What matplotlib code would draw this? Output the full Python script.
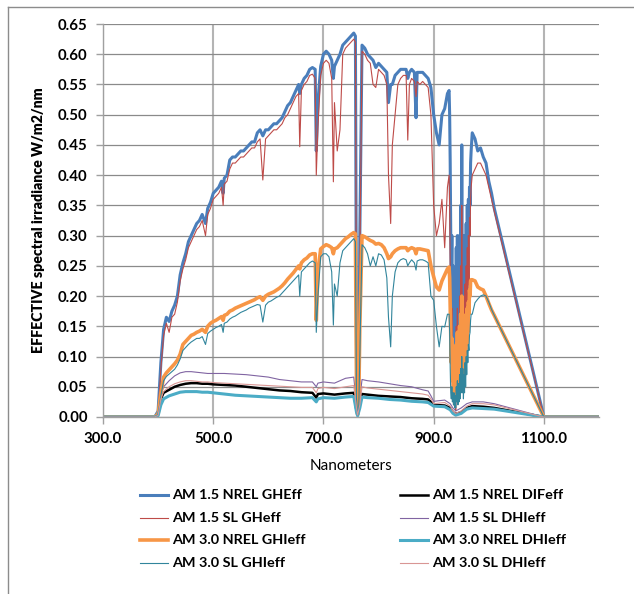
import matplotlib
matplotlib.use("Agg")
import matplotlib.pyplot as plt
from matplotlib.lines import Line2D

plt.rcParams['font.family'] = ['Lato', 'DejaVu Sans']

# ---------------- data: global (GH) curves ----------------
wl_gh = [300, 394, 400, 405, 410, 415, 420, 425, 430, 435,
         440, 445, 450, 455, 460, 465, 470, 475, 480, 486,
         490, 495, 500, 505, 510, 515, 518, 520, 525, 530,
         535, 540, 545, 550, 555, 560, 565, 570, 575, 580,
         585, 590, 595, 600, 605, 610, 615, 620, 625, 630,
         635, 640, 645, 650, 655, 657, 660, 665, 670, 675,
         680, 685, 687, 690, 695, 700, 705, 710, 715, 718,
         720, 725, 730, 735, 740, 745, 750, 755, 758, 760,
         762, 764, 766, 770, 775, 780, 785, 790, 795, 800,
         805, 810, 815, 818, 822, 825, 830, 835, 840, 845,
         850, 853, 856, 860, 865, 868, 870, 875, 880, 885,
         890, 895, 900, 905, 910, 915, 920, 925,
         928, 929, 930, 931, 932, 933, 934, 935, 936, 937,
         938, 939, 940, 941, 942, 943, 944, 945, 946, 947,
         948, 949, 950, 951, 952, 953, 954, 955, 956, 957,
         958, 959, 960, 961, 962, 963, 964, 965, 966, 967,
         968, 970, 975, 980, 985, 990, 995, 1000, 1005, 1010,
         1100, 1200]

am15_nrel_gh = [0, 0, 0.01, 0.09, 0.145, 0.165, 0.158, 0.175, 0.185, 0.20,
                0.235, 0.255, 0.27, 0.29, 0.30, 0.31, 0.32, 0.325, 0.335, 0.32,
                0.345, 0.355, 0.37, 0.375, 0.38, 0.39, 0.37, 0.395, 0.40, 0.425,
                0.43, 0.43, 0.435, 0.44, 0.44, 0.445, 0.45, 0.455, 0.455, 0.47,
                0.475, 0.465, 0.475, 0.475, 0.48, 0.485, 0.485, 0.49, 0.495, 0.505,
                0.515, 0.52, 0.53, 0.54, 0.55, 0.535, 0.55, 0.56, 0.565, 0.575,
                0.578, 0.575, 0.44, 0.52, 0.58, 0.60, 0.605, 0.60, 0.59, 0.56,
                0.58, 0.59, 0.60, 0.615, 0.62, 0.625, 0.63, 0.635, 0.63, 0.12,
                0.005, 0.04, 0.30, 0.615, 0.61, 0.60, 0.595, 0.59, 0.578, 0.585,
                0.58, 0.575, 0.57, 0.52, 0.55, 0.55, 0.565, 0.57, 0.575, 0.575,
                0.575, 0.56, 0.57, 0.575, 0.57, 0.495, 0.57, 0.57, 0.57, 0.565,
                0.56, 0.545, 0.50, 0.47, 0.45, 0.50, 0.51, 0.535,
                0.54, 0.50, 0.42, 0.30, 0.22, 0.30, 0.15, 0.25, 0.08, 0.20,
                0.06, 0.18, 0.05, 0.28, 0.12, 0.30, 0.10, 0.25, 0.08, 0.30,
                0.15, 0.35, 0.20, 0.45, 0.18, 0.30, 0.10, 0.28, 0.12, 0.30,
                0.15, 0.32, 0.20, 0.35, 0.22, 0.36, 0.30, 0.38, 0.35, 0.42,
                0.44, 0.47, 0.46, 0.44, 0.445, 0.43, 0.42, 0.39, 0.37, 0.345,
                0.0, 0.0]

am15_sl_gh = [0, 0, 0.008, 0.08, 0.135, 0.155, 0.14, 0.165, 0.17, 0.19,
              0.225, 0.245, 0.26, 0.28, 0.29, 0.30, 0.31, 0.315, 0.325, 0.30,
              0.335, 0.345, 0.36, 0.365, 0.37, 0.38, 0.35, 0.385, 0.39, 0.41,
              0.42, 0.42, 0.425, 0.43, 0.43, 0.435, 0.44, 0.445, 0.445, 0.455,
              0.46, 0.392, 0.46, 0.465, 0.47, 0.475, 0.475, 0.48, 0.485, 0.495,
              0.50, 0.51, 0.52, 0.53, 0.535, 0.447, 0.54, 0.55, 0.555, 0.565,
              0.567, 0.56, 0.40, 0.48, 0.565, 0.585, 0.59, 0.585, 0.56, 0.389,
              0.52, 0.44, 0.475, 0.60, 0.61, 0.615, 0.62, 0.625, 0.62, 0.10,
              0.003, 0.03, 0.25, 0.605, 0.60, 0.59, 0.585, 0.55, 0.545, 0.575,
              0.57, 0.565, 0.55, 0.40, 0.32, 0.45, 0.50, 0.55, 0.56, 0.565,
              0.565, 0.458, 0.55, 0.56, 0.555, 0.53, 0.555, 0.55, 0.555, 0.55,
              0.545, 0.50, 0.35, 0.30, 0.32, 0.36, 0.28, 0.38,
              0.40, 0.35, 0.25, 0.15, 0.10, 0.18, 0.05, 0.12, 0.02, 0.10,
              0.03, 0.08, 0.01, 0.15, 0.05, 0.18, 0.04, 0.15, 0.03, 0.20,
              0.06, 0.25, 0.10, 0.35, 0.08, 0.20, 0.05, 0.18, 0.06, 0.22,
              0.08, 0.25, 0.12, 0.28, 0.15, 0.30, 0.22, 0.33, 0.30, 0.36,
              0.38, 0.40, 0.41, 0.42, 0.42, 0.41, 0.40, 0.38, 0.36, 0.34,
              0.0, 0.0]

am30_nrel_gh = [0, 0, 0.005, 0.04, 0.066, 0.073, 0.078, 0.083, 0.088, 0.094,
                0.104, 0.12, 0.125, 0.13, 0.135, 0.137, 0.14, 0.142, 0.145, 0.14,
                0.15, 0.155, 0.158, 0.16, 0.163, 0.166, 0.16, 0.168, 0.17, 0.175,
                0.177, 0.18, 0.182, 0.184, 0.186, 0.188, 0.19, 0.192, 0.194, 0.197,
                0.199, 0.193, 0.20, 0.203, 0.205, 0.207, 0.21, 0.213, 0.217, 0.222,
                0.228, 0.233, 0.238, 0.244, 0.25, 0.245, 0.255, 0.26, 0.263, 0.268,
                0.27, 0.27, 0.16, 0.24, 0.278, 0.282, 0.285, 0.283, 0.28, 0.27,
                0.278, 0.28, 0.285, 0.29, 0.295, 0.298, 0.302, 0.305, 0.303, 0.05,
                0.004, 0.02, 0.15, 0.30, 0.298, 0.295, 0.292, 0.29, 0.286, 0.287,
                0.285, 0.28, 0.27, 0.262, 0.265, 0.27, 0.275, 0.278, 0.28, 0.28,
                0.28, 0.275, 0.278, 0.28, 0.278, 0.27, 0.278, 0.278, 0.277, 0.276,
                0.275, 0.25, 0.232, 0.215, 0.21, 0.225, 0.235, 0.245,
                0.248, 0.23, 0.18, 0.12, 0.09, 0.13, 0.06, 0.10, 0.04, 0.09,
                0.035, 0.08, 0.03, 0.12, 0.06, 0.14, 0.05, 0.13, 0.05, 0.15,
                0.07, 0.17, 0.10, 0.20, 0.08, 0.15, 0.06, 0.14, 0.07, 0.16,
                0.09, 0.17, 0.12, 0.18, 0.14, 0.19, 0.17, 0.21, 0.20, 0.225,
                0.227, 0.227, 0.225, 0.215, 0.212, 0.21, 0.20, 0.188, 0.177, 0.168,
                0.0, 0.0]

am30_sl_gh = [0, 0, 0.004, 0.035, 0.06, 0.067, 0.071, 0.075, 0.079, 0.086,
              0.096, 0.11, 0.115, 0.12, 0.124, 0.127, 0.13, 0.13, 0.133, 0.12,
              0.138, 0.142, 0.145, 0.148, 0.15, 0.153, 0.14, 0.155, 0.157, 0.162,
              0.165, 0.167, 0.17, 0.173, 0.175, 0.177, 0.18, 0.182, 0.184, 0.186,
              0.185, 0.157, 0.185, 0.19, 0.192, 0.195, 0.198, 0.20, 0.205, 0.21,
              0.215, 0.22, 0.225, 0.23, 0.235, 0.20, 0.24, 0.245, 0.25, 0.255,
              0.258, 0.255, 0.14, 0.20, 0.265, 0.27, 0.27, 0.265, 0.24, 0.152,
              0.22, 0.20, 0.255, 0.275, 0.28, 0.285, 0.29, 0.295, 0.29, 0.03,
              0.003, 0.01, 0.10, 0.285, 0.28, 0.27, 0.25, 0.265, 0.25, 0.27,
              0.268, 0.26, 0.23, 0.165, 0.116, 0.20, 0.24, 0.255, 0.26, 0.262,
              0.26, 0.25, 0.255, 0.26, 0.255, 0.243, 0.258, 0.26, 0.26, 0.258,
              0.255, 0.20, 0.193, 0.15, 0.116, 0.15, 0.149, 0.17,
              0.17, 0.14, 0.08, 0.04, 0.03, 0.05, 0.025, 0.04, 0.02, 0.04,
              0.015, 0.035, 0.015, 0.05, 0.025, 0.06, 0.02, 0.055, 0.025, 0.07,
              0.03, 0.08, 0.04, 0.10, 0.04, 0.08, 0.03, 0.07, 0.04, 0.09,
              0.05, 0.10, 0.07, 0.11, 0.09, 0.12, 0.11, 0.135, 0.14, 0.16,
              0.17, 0.17, 0.189, 0.195, 0.20, 0.202, 0.20, 0.19, 0.178, 0.168,
              0.0, 0.0]

# ---------------- data: diffuse (DH) curves ----------------
wl_dh = [300, 394, 400, 405, 410, 420, 430, 440, 450, 460,
         470, 480, 490, 500, 520, 540, 560, 580, 600, 620,
         640, 660, 680, 687, 690, 700, 720, 740, 755, 760,
         762, 766, 770, 780, 800, 820, 840, 860, 880, 890,
         895, 900, 920, 930, 935, 940, 950, 960, 970, 990,
         1010, 1100, 1200]

am15_nrel_dif = [0, 0, 0.005, 0.03, 0.04, 0.045, 0.05, 0.053, 0.055, 0.056,
                 0.056, 0.055, 0.055, 0.054, 0.053, 0.052, 0.05, 0.048, 0.046, 0.044,
                 0.043, 0.041, 0.04, 0.032, 0.038, 0.039, 0.037, 0.039, 0.04, 0.01,
                 0.003, 0.02, 0.038, 0.037, 0.035, 0.034, 0.033, 0.031, 0.03, 0.029,
                 0.025, 0.02, 0.019, 0.015, 0.008, 0.005, 0.008, 0.015, 0.018, 0.017,
                 0.015, 0, 0]

am15_sl_dh = [0, 0, 0.005, 0.035, 0.05, 0.06, 0.068, 0.073, 0.075, 0.075,
              0.074, 0.073, 0.072, 0.072, 0.072, 0.071, 0.07, 0.068, 0.066, 0.062,
              0.06, 0.058, 0.058, 0.05, 0.056, 0.058, 0.056, 0.064, 0.066, 0.02,
              0.005, 0.03, 0.062, 0.06, 0.058, 0.055, 0.052, 0.05, 0.045, 0.043,
              0.035, 0.026, 0.028, 0.022, 0.015, 0.01, 0.015, 0.022, 0.025, 0.025,
              0.022, 0, 0]

am30_nrel_dh = [0, 0, 0.002, 0.02, 0.03, 0.035, 0.038, 0.041, 0.042, 0.042,
                0.042, 0.041, 0.041, 0.04, 0.038, 0.036, 0.035, 0.034, 0.033, 0.032,
                0.031, 0.031, 0.032, 0.025, 0.03, 0.032, 0.031, 0.033, 0.034, 0.008,
                0.002, 0.015, 0.033, 0.032, 0.031, 0.029, 0.028, 0.026, 0.025, 0.024,
                0.021, 0.018, 0.017, 0.012, 0.006, 0.003, 0.006, 0.013, 0.015, 0.014,
                0.013, 0, 0]

am30_sl_dh = [0, 0, 0.003, 0.03, 0.042, 0.05, 0.055, 0.058, 0.06, 0.06,
              0.059, 0.058, 0.058, 0.057, 0.056, 0.055, 0.054, 0.053, 0.052, 0.051,
              0.05, 0.049, 0.049, 0.04, 0.047, 0.049, 0.047, 0.05, 0.052, 0.015,
              0.003, 0.02, 0.05, 0.048, 0.046, 0.044, 0.042, 0.04, 0.038, 0.036,
              0.03, 0.022, 0.024, 0.018, 0.01, 0.006, 0.01, 0.018, 0.022, 0.022,
              0.02, 0, 0]

labels = ["AM 1.5 NREL GHEff", "AM 1.5 NREL DIFeff",
          "AM 1.5 SL GHeff", "AM 1.5 SL DHIeff",
          "AM 3.0 NREL GHIeff", "AM 3.0 NREL DHIeff",
          "AM 3.0 SL GHIeff", "AM 3.0 SL DHIeff"]

x_ticks = [300, 500, 700, 900, 1100]
y_ticks = [0.00, 0.05, 0.10, 0.15, 0.20, 0.25, 0.30, 0.35, 0.40, 0.45, 0.50, 0.55, 0.60, 0.65]

# ---------------- figure ----------------
W, H = 634, 594
fig = plt.figure(figsize=(W / 100, H / 100), dpi=100)
ax = fig.add_axes([103 / W, 1 - 417 / H, (599 - 103) / W, (417 - 24) / H])

series = [
    (wl_gh, am15_nrel_gh, '#4a7ebb', 2.2),
    (wl_dh, am15_nrel_dif, '#000000', 1.8),
    (wl_gh, am15_sl_gh, '#be4b48', 0.8),
    (wl_dh, am15_sl_dh, '#8064a2', 0.8),
    (wl_gh, am30_nrel_gh, '#f79646', 2.6),
    (wl_dh, am30_nrel_dh, '#4bacc6', 2.2),
    (wl_gh, am30_sl_gh, '#31859c', 0.8),
    (wl_dh, am30_sl_dh, '#d99694', 0.8),
]
for (x, y, c, lw), lab in zip(series, labels):
    ax.plot(x, y, color=c, lw=lw, label=lab, solid_joinstyle='round')

ax.set_xlim(300, 1200)
ax.set_ylim(0, 0.65)
ax.set_xticks(x_ticks)
ax.set_xticklabels([f"{v:.1f}" for v in x_ticks])
ax.set_yticks(y_ticks)
ax.set_yticklabels([f"{v:.2f}" for v in y_ticks])

ax.grid(axis='y', color='#8a8a8a', lw=0.9)
ax.grid(axis='x', color='#b4b4b4', lw=1.5)
ax.set_axisbelow(True)
for s in ['top', 'right']:
    ax.spines[s].set_visible(False)
for s in ['left', 'bottom']:
    ax.spines[s].set_color('#a0a0a0')
    ax.spines[s].set_linewidth(1.0)
ax.tick_params(axis='both', direction='out', color='#a0a0a0', length=5, width=1,
               labelsize=10.8, pad=6)
for t in ax.get_xticklabels() + ax.get_yticklabels():
    t.set_fontweight('bold')

ax.set_xlabel("Nanometers", fontsize=11, labelpad=9)
ax.set_ylabel("EFFECTIVE spectral irradiance W/m2/nm", fontsize=10.2,
              fontweight='heavy', labelpad=9)

# legend (drawn manually at figure pixel positions)
handles = ax.get_lines()
rows_y = [495, 518, 540, 563]
col_x = [140, 400]
order = [0, 2, 4, 6, 1, 3, 5, 7]
for k, idx in enumerate(order):
    col = k // 4
    row = k % 4
    ln = handles[idx]
    yy = 1 - rows_y[row] / H
    x0 = col_x[col] / W
    x1 = (col_x[col] + 28) / W
    fig.add_artist(Line2D([x0, x1], [yy, yy], color=ln.get_color(),
                          lw=ln.get_linewidth(), transform=fig.transFigure))
    fig.text((col_x[col] + 32) / W, yy, ln.get_label(), fontsize=10.4,
             fontweight='bold', va='center', ha='left')

# chart-area border (top and left edges visible)
fig.add_artist(Line2D([8 / W, 8 / W], [0, 1 - 7 / H], color='#8c8c8c', lw=1,
                      transform=fig.transFigure))
fig.add_artist(Line2D([8 / W, 1], [1 - 7 / H, 1 - 7 / H], color='#8c8c8c', lw=1,
                      transform=fig.transFigure))

fig.savefig("out.png", dpi=100)
